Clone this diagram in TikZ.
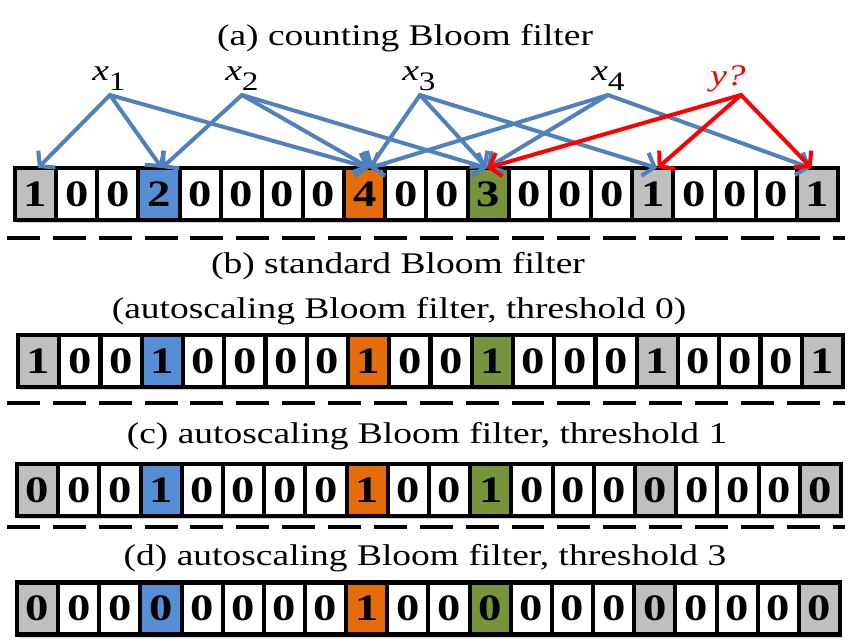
\documentclass[tikz,border=0pt]{standalone}
\usepackage{fontspec}
\setmainfont[FakeStretch=1.25]{Liberation Serif}
\usepackage{graphicx}
\usetikzlibrary{arrows.meta,backgrounds}
\definecolor{cgray}{HTML}{BFBFBF}
\definecolor{cblue}{HTML}{558ED5}
\definecolor{corange}{HTML}{E46C0A}
\definecolor{cgreen}{HTML}{77933C}
\definecolor{ablue}{HTML}{4F81BD}
\definecolor{ared}{HTML}{FF0000}
\newcommand\digit[1]{#1}
\newcommand\sub[1]{\raisebox{-7.5pt}{\fontsize{20}{20}\selectfont #1}}
\tikzset{
  cellbox/.style={draw=black, line width=3pt, outer sep=0pt, inner sep=0pt,
    minimum width=30.9pt, minimum height=39pt,
    font=\fontsize{28}{28}\selectfont\bfseries},
  rowframe/.style={draw=black, line width=3.6pt},
  rowshadow/.style={fill=black, opacity=0.18},
  sep/.style={draw=black, line width=3pt, dash pattern=on 24.7pt off 9.7pt},
  title/.style={anchor=base, font=\fontsize{22.5}{22.5}\selectfont, inner sep=0pt},
  elem/.style={anchor=base west, font=\fontsize{22.5}{22.5}\selectfont, inner sep=0pt},
  src/.style={inner sep=0pt, minimum size=0pt},
  blueconn/.style={draw=ablue, line width=3pt, line cap=round,
    -{Straight Barb[length=7.5pt,width=18pt,line cap=butt]}},
  redconn/.style={blueconn, draw=ared},
}
\begin{document}
\begin{tikzpicture}[x=0.75pt,y=-0.75pt]
\useasboundingbox (0,0) rectangle (858,643);
% titles
\node[title] (ta) at (405,45) {(a) counting Bloom filter};
\node[title] (tb1) at (398,273) {(b) standard Bloom filter};
\node[title] (tb2) at (399,318) {(autoscaling Bloom filter, threshold 0)};
\node[title] (tc) at (427,443) {(c) autoscaling Bloom filter, threshold 1};
\node[title] (td) at (425,565) {(d) autoscaling Bloom filter, threshold 3};
% separators
\coordinate (s1l) at (7,238); \coordinate (s1r) at (845,238);
\coordinate (s2l) at (7,403); \coordinate (s2r) at (845,403);
\coordinate (s3l) at (7,527); \coordinate (s3r) at (845,527);
\draw[sep] (s1l) -- (s1r);
\draw[sep] (s2l) -- (s2r);
\draw[sep] (s3l) -- (s3r);
% row a
\foreach \v/\c [count=\i from 0] in {1/cgray,0/white,0/white,2/cblue,0/white,0/white,0/white,0/white,4/corange,0/white,0/white,3/cgreen,0/white,0/white,0/white,1/cgray,0/white,0/white,0/white,1/cgray}
  \node[cellbox, fill=\c] (a\i) at ({15+41.15*(\i+0.5)},194) {\digit{\v}};
% row b
\foreach \v/\c [count=\i from 0] in {1/cgray,0/white,0/white,1/cblue,0/white,0/white,0/white,0/white,1/corange,0/white,0/white,1/cgreen,0/white,0/white,0/white,1/cgray,0/white,0/white,0/white,1/cgray}
  \node[cellbox, fill=\c] (b\i) at ({18+41.25*(\i+0.5)},361) {\digit{\v}};
% row c
\foreach \v/\c [count=\i from 0] in {0/cgray,0/white,0/white,1/cblue,0/white,0/white,0/white,0/white,1/corange,0/white,0/white,1/cgreen,0/white,0/white,0/white,0/cgray,0/white,0/white,0/white,0/cgray}
  \node[cellbox, fill=\c] (c\i) at ({17+41.2*(\i+0.5)},490) {\digit{\v}};
% row d
\foreach \v/\c [count=\i from 0] in {0/cgray,0/white,0/white,0/cblue,0/white,0/white,0/white,0/white,1/corange,0/white,0/white,0/cgreen,0/white,0/white,0/white,0/cgray,0/white,0/white,0/white,0/cgray}
  \node[cellbox, fill=\c] (d\i) at ({17+41.15*(\i+0.5)},608.5) {\digit{\v}};
% frames and shadows
\foreach \r in {a,b,c,d}{
  \draw[rowframe] (\r0.north west) rectangle (\r19.south east);
  \begin{scope}[on background layer]
    \fill[rowshadow] ([shift={(1.5pt,-2.5pt)}]\r0.north west) rectangle ([shift={(1.5pt,-2.5pt)}]\r19.south east);
  \end{scope}
}
% element labels
\node[elem] (lx1) at (92,80) {\textit{x}\sub{1}};
\node[elem] (lx2) at (225,80) {\textit{x}\sub{2}};
\node[elem] (lx3) at (402,80) {\textit{x}\sub{3}};
\node[elem] (lx4) at (591,80) {\textit{x}\sub{4}};
\node[elem, text=ared] (ly) at (710,85) {\textit{y?}};
\node[src] (p1) at (110,95) {};
\node[src] (p2) at (242,95) {};
\node[src] (p3) at (420,95) {};
\node[src] (p4) at (608,95) {};
\node[src] (py) at (741,95) {};
% blue connectors
\draw[blueconn] (p1.center) -- ([xshift=1.8pt]a0.north);
\draw[blueconn] (p1.center) -- ([xshift=2.1pt]a3.north);
\draw[blueconn] (p1.center) -- ([xshift=3.6pt]a8.north);
\draw[blueconn] (p2.center) -- ([xshift=2.1pt]a3.north);
\draw[blueconn] (p2.center) -- ([xshift=3.6pt]a8.north);
\draw[blueconn] (p2.center) -- ([xshift=-1pt]a11.north);
\draw[blueconn] (p3.center) -- ([xshift=3.6pt]a8.north);
\draw[blueconn] (p3.center) -- ([xshift=-1pt]a11.north);
\draw[blueconn] (p3.center) -- ([xshift=3.2pt]a15.north);
\draw[blueconn] (p4.center) -- ([xshift=3.6pt]a8.north);
\draw[blueconn] (p4.center) -- ([xshift=-1pt]a11.north);
\draw[blueconn] (p4.center) -- ([xshift=-5pt]a19.north);
% red connectors
\draw[redconn] (py.center) -- ([xshift=-1pt]a11.north);
\draw[redconn] (py.center) -- ([xshift=3.6pt]a15.north);
\draw[redconn] (py.center) -- ([xshift=-4.5pt]a19.north);
\end{tikzpicture}
\end{document}
